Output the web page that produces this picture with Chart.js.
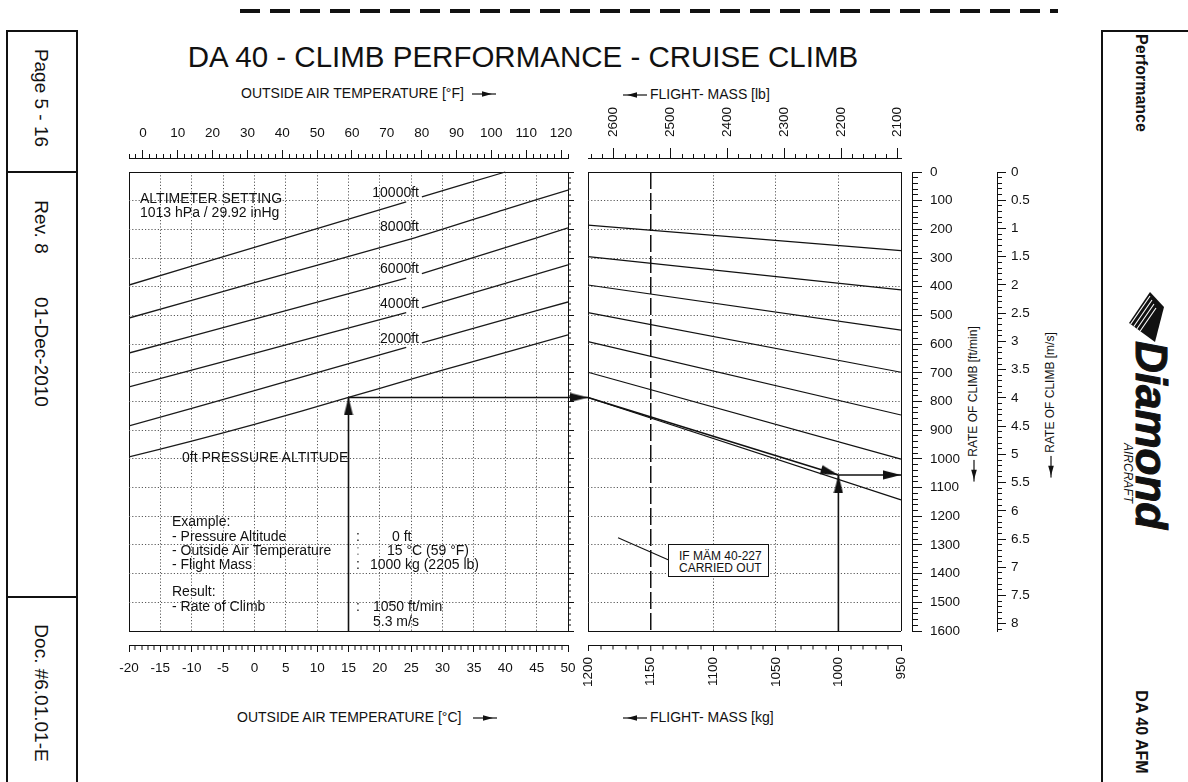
<!DOCTYPE html>
<html>
<head>
<meta charset="utf-8">
<title>DA 40 - Climb Performance - Cruise Climb</title>
<script src="https://cdn.jsdelivr.net/npm/chart.js@4.4.1/dist/chart.umd.min.js"></script>
<style>
  html, body { margin: 0; padding: 0; background: #fff; }
  body { position: relative; width: 1188px; height: 782px; overflow: hidden;
         font-family: "Liberation Sans", Arial, Helvetica, sans-serif; color: #111; }
  canvas { position: absolute; }
  .t { position: absolute; white-space: nowrap; line-height: 1; font-size: 14px; }
  .c { transform: translateX(-50%); }
  .r { transform: translateX(-100%); }
  .cw { position: absolute; white-space: nowrap; line-height: 1; transform: translate(-50%, -50%) rotate(90deg); }
  .ccw { position: absolute; white-space: nowrap; line-height: 1; transform: translate(-50%, -50%) rotate(-90deg); }
  .ar { vertical-align: middle; }
</style>
</head>
<body>

<svg style="position:absolute;left:0;top:0" width="1188" height="20">
  <line x1="238" y1="11" x2="1058" y2="11" stroke="#111" stroke-width="4" stroke-dasharray="20 10" stroke-dashoffset="-2"/>
</svg>

<!-- page frame, left -->
<div style="position:absolute;left:6px;top:30px;width:68px;height:800px;border:2px solid #111"></div>
<div style="position:absolute;left:6px;top:171px;width:72px;height:2px;background:#111"></div>
<div style="position:absolute;left:6px;top:596px;width:72px;height:2px;background:#111"></div>
<div class="cw" style="left:41px;top:98px;font-size:19px">Page 5 - 16</div>
<div class="cw" style="left:41px;top:227px;font-size:19px">Rev. 8</div>
<div class="cw" style="left:41px;top:352px;font-size:19px">01-Dec-2010</div>
<div class="cw" style="left:41px;top:693px;font-size:19px">Doc. #6.01.01-E</div>

<!-- page frame, right -->
<div style="position:absolute;left:1101px;top:30px;width:100px;height:800px;border:2px solid #111"></div>
<div class="cw" style="left:1141px;top:83px;font-size:16px;font-weight:bold">Performance</div>
<div class="cw" style="left:1141px;top:732px;font-size:16px;font-weight:bold">DA 40 AFM</div>
<svg style="position:absolute;left:1120px;top:280px" width="50" height="66">
  <defs><clipPath id="dm"><polygon points="30,12 44,27 35,62 9,43"/></clipPath></defs>
  <polygon points="30,12 44,27 35,62 9,43" fill="#111"/>
  <g clip-path="url(#dm)" stroke="#fff" stroke-width="1.1">
    <line x1="4" y1="40" x2="26" y2="8"/>
    <line x1="6" y1="44" x2="28" y2="12"/>
    <line x1="8" y1="48" x2="30" y2="16"/>
    <line x1="10" y1="52" x2="32" y2="20"/>
    <line x1="12" y1="56" x2="34" y2="24"/>
    <line x1="14" y1="60" x2="36" y2="28"/>
  </g>
</svg>
<div style="position:absolute;left:1146px;top:410px;width:250px;height:46px;transform:translate(-50%,-50%) rotate(90deg)">
  <div style="position:absolute;left:56px;top:-4px;font-style:italic;font-weight:900;font-size:44px;line-height:1;white-space:nowrap;-webkit-text-stroke:1px #111">Diamond</div>
  <div style="position:absolute;left:158px;top:35px;font-style:italic;font-size:12px;line-height:1;white-space:nowrap">AIRCRAFT</div>
</div>

<!-- titles -->
<div class="t c" style="left:523px;top:42px;font-size:29.5px">DA 40 - CLIMB PERFORMANCE - CRUISE CLIMB</div>
<div class="t" style="left:241px;top:86px">OUTSIDE AIR TEMPERATURE [°F]<svg class="ar" width="24" height="8" style="margin-left:8px"><line x1="0" y1="4" x2="24" y2="4" stroke="#111" stroke-width="1.2"/><path d="M10 1.2 L20 4 L10 6.8 Z" fill="#111"/></svg></div>
<div class="t" style="left:623px;top:87px"><svg class="ar" width="24" height="8" style="margin-right:3px"><line x1="0" y1="4" x2="24" y2="4" stroke="#111" stroke-width="1.2"/><path d="M14 1.2 L4 4 L14 6.8 Z" fill="#111"/></svg>FLIGHT- MASS [lb]</div>
<div class="t" style="left:237px;top:710px">OUTSIDE AIR TEMPERATURE [°C]<svg class="ar" width="24" height="8" style="margin-left:12px"><line x1="0" y1="4" x2="24" y2="4" stroke="#111" stroke-width="1.2"/><path d="M10 1.2 L20 4 L10 6.8 Z" fill="#111"/></svg></div>
<div class="t" style="left:623px;top:710px"><svg class="ar" width="24" height="8" style="margin-right:3px"><line x1="0" y1="4" x2="24" y2="4" stroke="#111" stroke-width="1.2"/><path d="M14 1.2 L4 4 L14 6.8 Z" fill="#111"/></svg>FLIGHT- MASS [kg]</div>
<div class="ccw" style="left:973px;top:404px;font-size:12px"><svg class="ar" width="22" height="8" style="margin-right:3px"><line x1="0" y1="4" x2="22" y2="4" stroke="#111" stroke-width="1.2"/><path d="M12 1.2 L2 4 L12 6.8 Z" fill="#111"/></svg>RATE OF CLIMB [ft/min]</div>
<div class="ccw" style="left:1050px;top:405px;font-size:12px"><svg class="ar" width="22" height="8" style="margin-right:3px"><line x1="0" y1="4" x2="22" y2="4" stroke="#111" stroke-width="1.2"/><path d="M12 1.2 L2 4 L12 6.8 Z" fill="#111"/></svg>RATE OF CLIMB [m/s]</div>

<canvas id="left" width="489" height="600" style="left:104px;top:100px"></canvas>
<canvas id="right" width="363" height="600" style="left:563px;top:100px"></canvas>
<canvas id="roc" width="172" height="490" style="left:900px;top:160px"></canvas>

<!-- notes inside the left panel -->
<div class="t" style="left:140px;top:191px">ALTIMETER SETTING</div>
<div class="t" style="left:140px;top:205px">1013 hPa / 29.92 inHg</div>
<div class="t r" style="left:419px;top:185px">10000ft</div>
<div class="t r" style="left:419px;top:219px">8000ft</div>
<div class="t r" style="left:419px;top:261px">6000ft</div>
<div class="t r" style="left:419px;top:296px">4000ft</div>
<div class="t r" style="left:419px;top:331px">2000ft</div>
<div class="t" style="left:182px;top:450px">0ft PRESSURE ALTITUDE</div>

<div class="t" style="left:172px;top:514px">Example:</div>
<div class="t" style="left:172px;top:529px">- Pressure Altitude</div>
<div class="t" style="left:172px;top:543px">- Outside Air Temperature</div>
<div class="t" style="left:172px;top:557px">- Flight Mass</div>
<div class="t" style="left:172px;top:584px">Result:</div>
<div class="t" style="left:172px;top:599px">- Rate of Climb</div>
<div class="t" style="left:356px;top:529px">:</div>
<div class="t" style="left:356px;top:543px;color:#888">:</div>
<div class="t" style="left:356px;top:557px">:</div>
<div class="t" style="left:356px;top:599px">:</div>
<div class="t" style="left:392px;top:529px">0 ft</div>
<div class="t" style="left:387px;top:543px">15 °C (59 °F)</div>
<div class="t" style="left:370px;top:557px">1000 kg (2205 lb)</div>
<div class="t" style="left:373px;top:599px">1050 ft/min</div>
<div class="t" style="left:373px;top:614px">5.3 m/s</div>

<div style="position:absolute;left:668px;top:544px;width:99px;height:31px;border:1px solid #111;background:#fff"></div>
<div class="t" style="left:679px;top:550px;font-size:12px">IF MÄM 40-227</div>
<div class="t" style="left:679px;top:562px;font-size:12px">CARRIED OUT</div>

<script>
Chart.defaults.font.family = '"Liberation Sans", Arial, Helvetica, sans-serif';
Chart.defaults.font.size = 13.5;
Chart.defaults.color = '#111';

// ---- tick labels ----
var celsiusLabels = [-20, -15, -10, -5, 0, 5, 10, 15, 20, 25, 30, 35, 40, 45, 50];
var fahrenheitLabels = [0, 10, 20, 30, 40, 50, 60, 70, 80, 90, 100, 110, 120];
var massKgLabels = [1200, 1150, 1100, 1050, 1000, 950];
var massLbLabels = [2600, 2500, 2400, 2300, 2200, 2100];
var rocFtLabels = [0, 100, 200, 300, 400, 500, 600, 700, 800, 900, 1000, 1100, 1200, 1300, 1400, 1500, 1600];
var rocMsLabels = [0, 0.5, 1, 1.5, 2, 2.5, 3, 3.5, 4, 4.5, 5, 5.5, 6, 6.5, 7, 7.5, 8];

// ---- left panel: rate of climb [ft/min] vs OAT [°C], one line per pressure altitude ----
// (null = gap left for the altitude label)
var alt10000Temp = [-20, 0, 24.2, 25.5, 26.7, 40];
var alt10000Roc  = [394, 263, 104, null, 87, 0];
var alt8000Temp  = [-20, 0, 25, 40, 50];
var alt8000Roc   = [509, 386, 233, 130, 63];
var alt6000Temp  = [-20, 0, 24.2, 25.5, 26.7, 40, 50];
var alt6000Roc   = [631, 513, 370, null, 354, 264, 195];
var alt4000Temp  = [-20, 0, 24.2, 25.5, 26.7, 40, 50];
var alt4000Roc   = [749, 632, 490, null, 474, 388, 324];
var alt2000Temp  = [-20, 0, 24.2, 25.5, 26.7, 40, 50];
var alt2000Roc   = [885, 762, 611, null, 596, 514, 453];
var alt0Temp     = [-20, -10, 0, 15, 25, 35, 50];
var alt0Roc      = [993, 938, 880, 786, 722, 660, 568];

// ---- right panel: guide lines, rate of climb at 1200 kg and at 950 kg ----
var guideMassKg = [1200, 950];
var guideRocAt1200 = [185, 295, 394, 490, 591, 698, 786];
var guideRocAt950  = [274, 411, 551, 698, 847, 1001, 1143];

// ---- worked example ----
var exUpTemp = [15, 15];          var exUpRoc = [1600, 786];
var exAcrossTemp = [15, 53.2];    var exAcrossRoc = [786, 786];   // runs on to the mass panel
var exSlopeKg = [1200, 1000];     var exSlopeRoc = [786, 1056];
var exOutKg = [1000, 950];        var exOutRoc = [1056, 1056];
var exMassUpKg = [1000, 1000];    var exMassUpRoc = [1600, 1056];
var mamLeaderKg = [1176, 1136];   var mamLeaderRoc = [1275, 1352];

var LB_PER_KG = 2.20462, FTMIN_PER_MS = 196.85;
var ROC_MIN = 0, ROC_MAX = 1600;
var FRAME_GAP = 14, AREA_H = 487;   // rulers sit a little off the plot frame
var rocPad = (ROC_MAX - ROC_MIN) * FRAME_GAP / (AREA_H - 2 * FRAME_GAP);
var GRID = '#5a5a5a', INK = '#111', NONE = 'rgba(0,0,0,0)';

function near(a, b) { return Math.abs(a - b) < 1e-6; }
function inList(v, list) { for (var i = 0; i < list.length; i++) if (near(v, list[i])) return true; return false; }
function steps(from, to, step) {
  var out = [], n = Math.round((to - from) / step);
  for (var i = 0; i <= n; i++) out.push(+(from + i * step).toFixed(4));
  return out;
}
function tickList(from, to, step) {
  return function (s) { s.ticks = steps(from, to, step).map(function (v) { return {value: v}; }); };
}
function pts(xs, ys) { return xs.map(function (x, i) { return {x: x, y: ys[i]}; }); }
function val(c) { return c.tick ? c.tick.value : NaN; }

// vertical grid lines only cover the plot frame, not the ruler gap
function frameOf(chart) {
  var y = chart.scales.y, top = y.getPixelForValue(ROC_MIN), bot = y.getPixelForValue(ROC_MAX);
  return {skip: top - chart.chartArea.top, len: bot - top};
}
function dashRun(skip, len, on, off) {
  var a = [0, skip];
  for (var t = 0; t < len; t += on + off) a.push(Math.min(on, len - t), off);
  a[a.length - 1] += 2000;
  return a;
}

var HEAD = (function () {
  var c = document.createElement('canvas');
  c.width = 10; c.height = 36;
  var g = c.getContext('2d');
  g.fillStyle = INK;
  g.beginPath(); g.moveTo(5, 18); g.lineTo(9.6, 36); g.lineTo(0.4, 36); g.closePath(); g.fill();
  return c;
})();

function curve(xs, ys) {
  return {data: pts(xs, ys), borderColor: '#1a1a1a', borderWidth: 1.3, pointRadius: 0,
          tension: 0.25, spanGaps: false, fill: false};
}
function arrow(xs, ys, rotation) {
  return {data: pts(xs, ys), borderColor: INK, borderWidth: 1.6, tension: 0, fill: false, clip: false,
          pointStyle: HEAD, pointRotation: rotation,
          pointRadius: function (c) { return c.dataIndex === xs.length - 1 ? 5 : 0; }};
}
function plain(xs, ys, width) {
  return {data: pts(xs, ys), borderColor: INK, borderWidth: width, pointRadius: 0, tension: 0, fill: false, clip: false};
}

var base = {
  responsive: false, animation: false, events: [], devicePixelRatio: 1,
  plugins: {legend: {display: false}, tooltip: {enabled: false}}
};
function opts(extra) { return Object.assign({}, base, extra); }

// horizontal grid: frame edges solid, every 100 ft/min dotted
function rocGrid(withRuler) {
  return {
    type: 'linear', reverse: true, min: ROC_MIN - rocPad, max: ROC_MAX + rocPad,
    position: withRuler ? 'right' : 'left',
    afterBuildTicks: tickList(ROC_MIN, ROC_MAX, withRuler ? 20 : 100),
    afterFit: function (s) { s.width = 0; s.paddingTop = 0; s.paddingBottom = 0; },
    ticks: {display: false},
    grid: {
      drawTicks: withRuler, tickLength: 6, tickColor: INK, tickWidth: 1,
      tickBorderDash: function (c) { return inList(val(c), rocFtLabels) ? [] : [3, 40]; },
      color: function (c) {
        var v = val(c);
        if (near(v, ROC_MIN) || near(v, ROC_MAX)) return INK;
        return inList(v, rocFtLabels) ? GRID : NONE;
      },
      lineWidth: function (c) { return inList(val(c), rocFtLabels) ? 1 : 0; }
    },
    border: {display: false, dash: function (c) {
      var v = val(c);
      return (near(v, ROC_MIN) || near(v, ROC_MAX)) ? [] : [1.2, 2];
    }}
  };
}

// ---------------- left panel ----------------
new Chart(document.getElementById('left'), {
  type: 'line',
  data: {datasets: [
    curve(alt10000Temp, alt10000Roc),
    curve(alt8000Temp, alt8000Roc),
    curve(alt6000Temp, alt6000Roc),
    curve(alt4000Temp, alt4000Roc),
    curve(alt2000Temp, alt2000Roc),
    curve(alt0Temp, alt0Roc),
    arrow(exUpTemp, exUpRoc, 0),
    plain(exAcrossTemp, exAcrossRoc, 1.6)
  ]},
  options: opts({
    layout: {padding: {left: 25, right: 25, top: 0, bottom: 0}},
    scales: {
      x: {
        type: 'linear', position: 'bottom', min: -20, max: 50,
        afterBuildTicks: tickList(-20, 50, 1),
        afterFit: function (s) { s.height = 55; s.paddingLeft = 0; s.paddingRight = 0; },
        ticks: {autoSkip: false, minRotation: 0, maxRotation: 0, padding: 8,
                callback: function (v) { return inList(v, celsiusLabels) ? String(v) : ''; }},
        grid: {
          tickLength: 7, tickColor: INK, tickWidth: 1,
          tickBorderDash: function (c) { return inList(val(c), celsiusLabels) ? [] : [4, 40]; },
          color: function (c) {
            var v = val(c);
            if (v === -20 || v === 50) return INK;
            return inList(v, celsiusLabels) ? GRID : NONE;
          },
          lineWidth: function (c) { return inList(val(c), celsiusLabels) ? 1 : 0; }
        },
        border: {color: INK, width: 1, dash: function (c) {
          if (!c.tick) return [];
          var f = frameOf(c.chart), v = c.tick.value;
          return (v === -20 || v === 50) ? [0, f.skip, f.len, 2000] : dashRun(f.skip, f.len, 1.2, 2);
        }}
      },
      xF: {
        axis: 'x', type: 'linear', position: 'top', min: -20 * 9 / 5 + 32, max: 50 * 9 / 5 + 32,
        afterBuildTicks: tickList(-4, 122, 2),
        afterFit: function (s) { s.height = 58; s.paddingLeft = 0; s.paddingRight = 0; },
        ticks: {autoSkip: false, minRotation: 0, maxRotation: 0, padding: 9,
                callback: function (v) { return inList(v, fahrenheitLabels) ? String(v) : ''; }},
        grid: {
          drawOnChartArea: false, tickLength: 8, tickColor: INK, tickWidth: 1,
          tickBorderDash: function (c) { return inList(val(c), fahrenheitLabels) ? [] : [0, 4, 4, 40]; }
        },
        border: {color: INK, width: 1}
      },
      y: rocGrid(true)
    }
  })
});

// ---------------- right panel ----------------
var guideSets = guideRocAt1200.map(function (r, i) {
  return plain(guideMassKg, [r, guideRocAt950[i]], 1.2);
});

function kgGridColor(v) {
  if (!inList(v, massKgLabels)) return NONE;
  return (v === 950 || v === 1200 || v === 1150) ? INK : GRID;
}

new Chart(document.getElementById('right'), {
  type: 'line',
  data: {datasets: guideSets.concat([
    arrow(exSlopeKg, exSlopeRoc, function (c) {
      var x = c.chart.scales.x, y = c.chart.scales.y;
      var dx = x.getPixelForValue(exSlopeKg[1]) - x.getPixelForValue(exSlopeKg[0]);
      var dy = y.getPixelForValue(exSlopeRoc[1]) - y.getPixelForValue(exSlopeRoc[0]);
      return Math.atan2(dx, -dy) * 180 / Math.PI;
    }),
    arrow(exOutKg, exOutRoc, 90),
    arrow(exMassUpKg, exMassUpRoc, 0),
    {data: pts([exSlopeKg[0]], [exSlopeRoc[0]]), showLine: false, clip: false,
     pointStyle: HEAD, pointRotation: 90, pointRadius: 5},
    plain(mamLeaderKg, mamLeaderRoc, 1.1)
  ])},
  options: opts({
    layout: {padding: {left: 25, right: 25, top: 0, bottom: 0}},
    scales: {
      x: {
        type: 'linear', position: 'bottom', reverse: true, min: 950, max: 1200,
        afterBuildTicks: tickList(950, 1200, 10),
        afterFit: function (s) { s.height = 55; s.paddingLeft = 0; s.paddingRight = 0; },
        ticks: {autoSkip: false, minRotation: 90, maxRotation: 90, padding: 6,
                callback: function (v) { return inList(v, massKgLabels) ? String(v) : ''; }},
        grid: {
          tickLength: 6, tickColor: INK, tickWidth: 1,
          tickBorderDash: function (c) { return inList(val(c), massKgLabels) ? [] : [3.5, 40]; },
          color: function (c) { return kgGridColor(val(c)); },
          lineWidth: function (c) {
            var v = val(c);
            if (!inList(v, massKgLabels)) return 0;
            return v === 1150 ? 1.5 : 1;
          }
        },
        border: {color: INK, width: 1, dash: function (c) {
          if (!c.tick) return [];
          var f = frameOf(c.chart), v = c.tick.value;
          if (v === 950 || v === 1200) return [0, f.skip, f.len, 2000];
          if (v === 1150) return dashRun(f.skip, f.len, 17, 4);
          return dashRun(f.skip, f.len, 1.2, 2);
        }}
      },
      xLb: {
        axis: 'x', type: 'linear', position: 'top', reverse: true,
        min: 950 * LB_PER_KG, max: 1200 * LB_PER_KG,
        afterBuildTicks: tickList(2100, 2640, 20),
        afterFit: function (s) { s.height = 58; s.paddingLeft = 0; s.paddingRight = 0; },
        ticks: {autoSkip: false, minRotation: 90, maxRotation: 90, padding: 11, labelOffset: 16,
                callback: function (v) { return inList(v, massLbLabels) ? String(v) : ''; }},
        grid: {
          drawOnChartArea: false, tickLength: 10, tickColor: INK, tickWidth: 1,
          tickBorderDash: function (c) { return inList(val(c), massLbLabels) ? [] : [0, 6, 4, 40]; }
        },
        border: {color: INK, width: 1}
      },
      y: rocGrid(false)
    }
  })
});

// ---------------- rate of climb scales ----------------
new Chart(document.getElementById('roc'), {
  type: 'line',
  data: {datasets: []},
  options: opts({
    layout: {padding: {left: 11, right: 0, top: 12, bottom: 19}},
    scales: {
      x: {type: 'linear', display: false, min: 0, max: 1},
      ft: {
        axis: 'y', type: 'linear', position: 'right', reverse: true, min: ROC_MIN, max: ROC_MAX,
        afterBuildTicks: tickList(0, 1600, 20),
        afterFit: function (s) { s.width = 85; s.paddingTop = 0; s.paddingBottom = 0; },
        ticks: {autoSkip: false, padding: 8,
                callback: function (v) { return inList(v, rocFtLabels) ? String(v) : ''; }},
        grid: {
          drawOnChartArea: false, tickLength: 10, tickColor: INK, tickWidth: 1,
          tickBorderDash: function (c) { return inList(val(c), rocFtLabels) ? [] : [5, 40]; }
        },
        border: {color: INK, width: 1}
      },
      ms: {
        axis: 'y', type: 'linear', position: 'right', reverse: true,
        min: ROC_MIN / FTMIN_PER_MS, max: ROC_MAX / FTMIN_PER_MS,
        afterBuildTicks: tickList(0, 8.1, 0.1),
        afterFit: function (s) { s.width = 75; s.paddingTop = 0; s.paddingBottom = 0; },
        ticks: {autoSkip: false, padding: 5,
                callback: function (v) { return inList(v, rocMsLabels) ? String(+v.toFixed(1)) : ''; }},
        grid: {
          drawOnChartArea: false, tickLength: 9, tickColor: INK, tickWidth: 1,
          tickBorderDash: function (c) { return inList(val(c), rocMsLabels) ? [] : [4, 40]; }
        },
        border: {color: INK, width: 1}
      }
    }
  })
});
</script>
</body>
</html>
